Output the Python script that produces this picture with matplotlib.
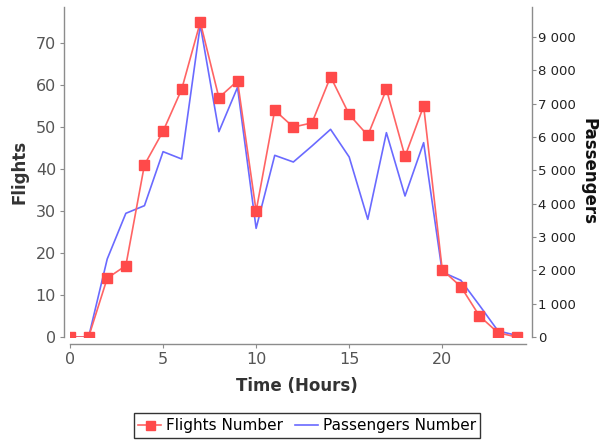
import numpy as np
import matplotlib
matplotlib.use('Agg')
import matplotlib.pyplot as plt
from matplotlib.ticker import FuncFormatter

# values
hours = list(range(25))
flights = [0, 0, 14, 17, 41, 49, 59, 75, 57, 61, 30, 54, 50, 51, 62, 53,
           48, 59, 43, 55, 16, 12, 5, 1, 0]
passengers = [0, 0, 2340, 3710, 3940, 5560, 5340, 9360, 6160, 7490, 3260,
              5450, 5250, 5730, 6230, 5400, 3530, 6130, 4230, 5830, 1950,
              1700, 950, 180, 50]
series_names = ['Flights Number', 'Passengers Number']

x_ticks = [0, 5, 10, 15, 20]
flight_ticks = list(range(0, 80, 10))
passenger_ticks = list(range(0, 10000, 1000))

red_line = '#FF6464'
red_mark = '#FF4A4A'
blue = '#6A6AFF'
grey = '#8C8C8C'

fig = plt.figure(figsize=(6.01, 4.41), dpi=100)
ax = fig.add_axes([70 / 601, 1 - 337 / 441, 456 / 601, 330 / 441])
ax2 = ax.twinx()
ax.set_zorder(2)
ax.patch.set_visible(False)

l2, = ax2.plot(hours, passengers, color=blue, lw=1.2)
l1, = ax.plot(hours, flights, color=red_line, lw=1.2, marker='s', ms=7.2,
              mfc=red_mark, mec=red_mark)

ax.set_xlim(0, 24.5)
ax.set_ylim(0, 78.6)
ax2.set_ylim(0, 9900)
ax.set_xticks(x_ticks)
ax.set_yticks(flight_ticks)
ax2.set_yticks(passenger_ticks)
ax2.yaxis.set_major_formatter(FuncFormatter(lambda v, p: f"{int(v):,}".replace(',', ' ')))

for a in (ax, ax2):
    for s in a.spines.values():
        s.set_visible(False)
ax.spines['left'].set_visible(True)
ax.spines['bottom'].set_visible(True)
ax2.spines['right'].set_visible(True)
ax.spines['left'].set_position(('outward', 4))
ax.spines['bottom'].set_position(('outward', 5))
ax2.spines['right'].set_position(('outward', 4))
for s in (ax.spines['left'], ax.spines['bottom'], ax2.spines['right']):
    s.set_color(grey)
    s.set_linewidth(1.0)

ax.tick_params(axis='both', length=3, width=0.8, color=grey, labelsize=11.5,
               labelcolor='#555555', pad=3)
ax2.tick_params(axis='y', length=3, width=0.8, color=grey, labelsize=9.5,
                labelcolor='#222222', pad=2)

ax.set_xlabel('Time (Hours)', fontsize=12, fontweight='bold', color='#333333')
ax.xaxis.set_label_coords(0.497, -0.12)
ax.set_ylabel('Flights', fontsize=12, fontweight='bold', color='#333333')
ax.yaxis.set_label_coords(-0.09, 0.5)
ax2.set_ylabel('Passengers', fontsize=12, fontweight='bold', color='#111111',
               rotation=-90, va='bottom')
ax2.yaxis.set_label_coords(1.118, 0.5)

leg = fig.legend(handles=[l1, l2], labels=series_names,
                 loc='center', bbox_to_anchor=(0.511, 0.035), ncol=2,
                 fontsize=11, frameon=True, fancybox=False, handlelength=1.5,
                 handletextpad=0.3, columnspacing=0.8, borderpad=0.3,
                 markerscale=0.9)
leg.get_frame().set_edgecolor('black')
leg.get_frame().set_linewidth(1.0)

fig.savefig('out.png', dpi=100)
